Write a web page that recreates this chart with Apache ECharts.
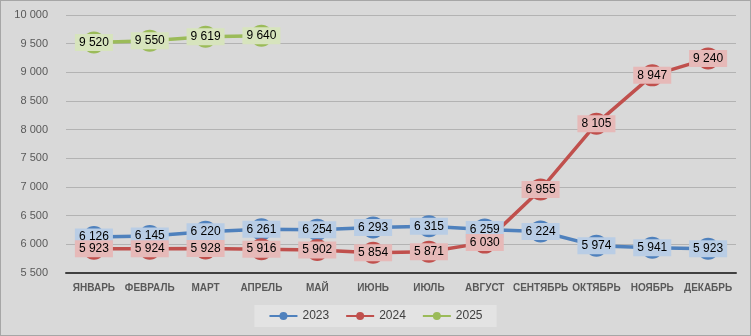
<!DOCTYPE html>
<html>
<head>
<meta charset="utf-8">
<script src="https://cdn.jsdelivr.net/npm/echarts@6/dist/echarts.min.js"></script>
<style>
  html, body { margin: 0; padding: 0; background: #d9d9d9; }
  #chart { width: 751px; height: 336px; box-sizing: border-box; border: 1px solid #a6a6a6; background: #d9d9d9; }
</style>
</head>
<body>
<div id="chart"></div>
<script>
// Monthly values by year
const months = ['ЯНВАРЬ', 'ФЕВРАЛЬ', 'МАРТ', 'АПРЕЛЬ', 'МАЙ', 'ИЮНЬ', 'ИЮЛЬ', 'АВГУСТ', 'СЕНТЯБРЬ', 'ОКТЯБРЬ', 'НОЯБРЬ', 'ДЕКАБРЬ'];
const values2023 = [6126, 6145, 6220, 6261, 6254, 6293, 6315, 6259, 6224, 5974, 5941, 5923];
const values2024 = [5923, 5924, 5928, 5916, 5902, 5854, 5871, 6030, 6955, 8105, 8947, 9240];
const values2025 = [9520, 9550, 9619, 9640, null, null, null, null, null, null, null, null];
const yMin = 5500, yMax = 10000, yStep = 500;

const fmt = v => String(v).replace(/\B(?=(\d{3})+(?!\d))/g, ' ');

function makeSeries(name, data, color, labelBg) {
  return {
    name: name,
    type: 'line',
    data: data,
    symbol: 'circle',
    symbolSize: 22,
    connectNulls: false,
    lineStyle: { color: color, width: 3.5 },
    itemStyle: { color: color },
    label: {
      show: true,
      position: 'inside',
      formatter: p => fmt(p.value),
      fontFamily: 'Liberation Sans',
      fontSize: 12,
      color: '#000',
      backgroundColor: labelBg,
      padding: [3, 4, 2, 4]
    },
    emphasis: { disabled: true }
  };
}

const chart = echarts.init(document.getElementById('chart'));
chart.setOption({
  animation: false,
  backgroundColor: '#d9d9d9',
  grid: { left: 65, right: 14, top: 14, bottom: 62 },
  xAxis: {
    type: 'category',
    data: months,
    boundaryGap: true,
    axisLine: { lineStyle: { color: '#404040', width: 2 } },
    axisTick: { show: false },
    axisLabel: { color: '#595959', fontFamily: 'Liberation Sans', fontWeight: 'bold', fontSize: 10, margin: 10, interval: 0 }
  },
  yAxis: {
    type: 'value',
    min: yMin, max: yMax, interval: yStep,
    axisLine: { show: false },
    axisTick: { show: false },
    axisLabel: { color: '#595959', fontFamily: 'Liberation Sans', fontSize: 11, margin: 18, formatter: v => fmt(v) },
    splitLine: { lineStyle: { color: '#b3b3b3', width: 1 } }
  },
  legend: {
    bottom: 8,
    left: 'center',
    backgroundColor: '#e3e3e3',
    padding: [5, 14],
    itemGap: 16,
    itemWidth: 28,
    itemHeight: 10,
    textStyle: { color: '#404040', fontFamily: 'Liberation Sans', fontSize: 12 },
    data: ['2023', '2024', '2025']
  },
  series: [
    makeSeries('2023', values2023, '#4f81bd', '#b9cde5'),
    makeSeries('2024', values2024, '#c0504d', '#e6b9b8'),
    makeSeries('2025', values2025, '#9bbb59', '#d7e4bd')
  ]
});
</script>
</body>
</html>
